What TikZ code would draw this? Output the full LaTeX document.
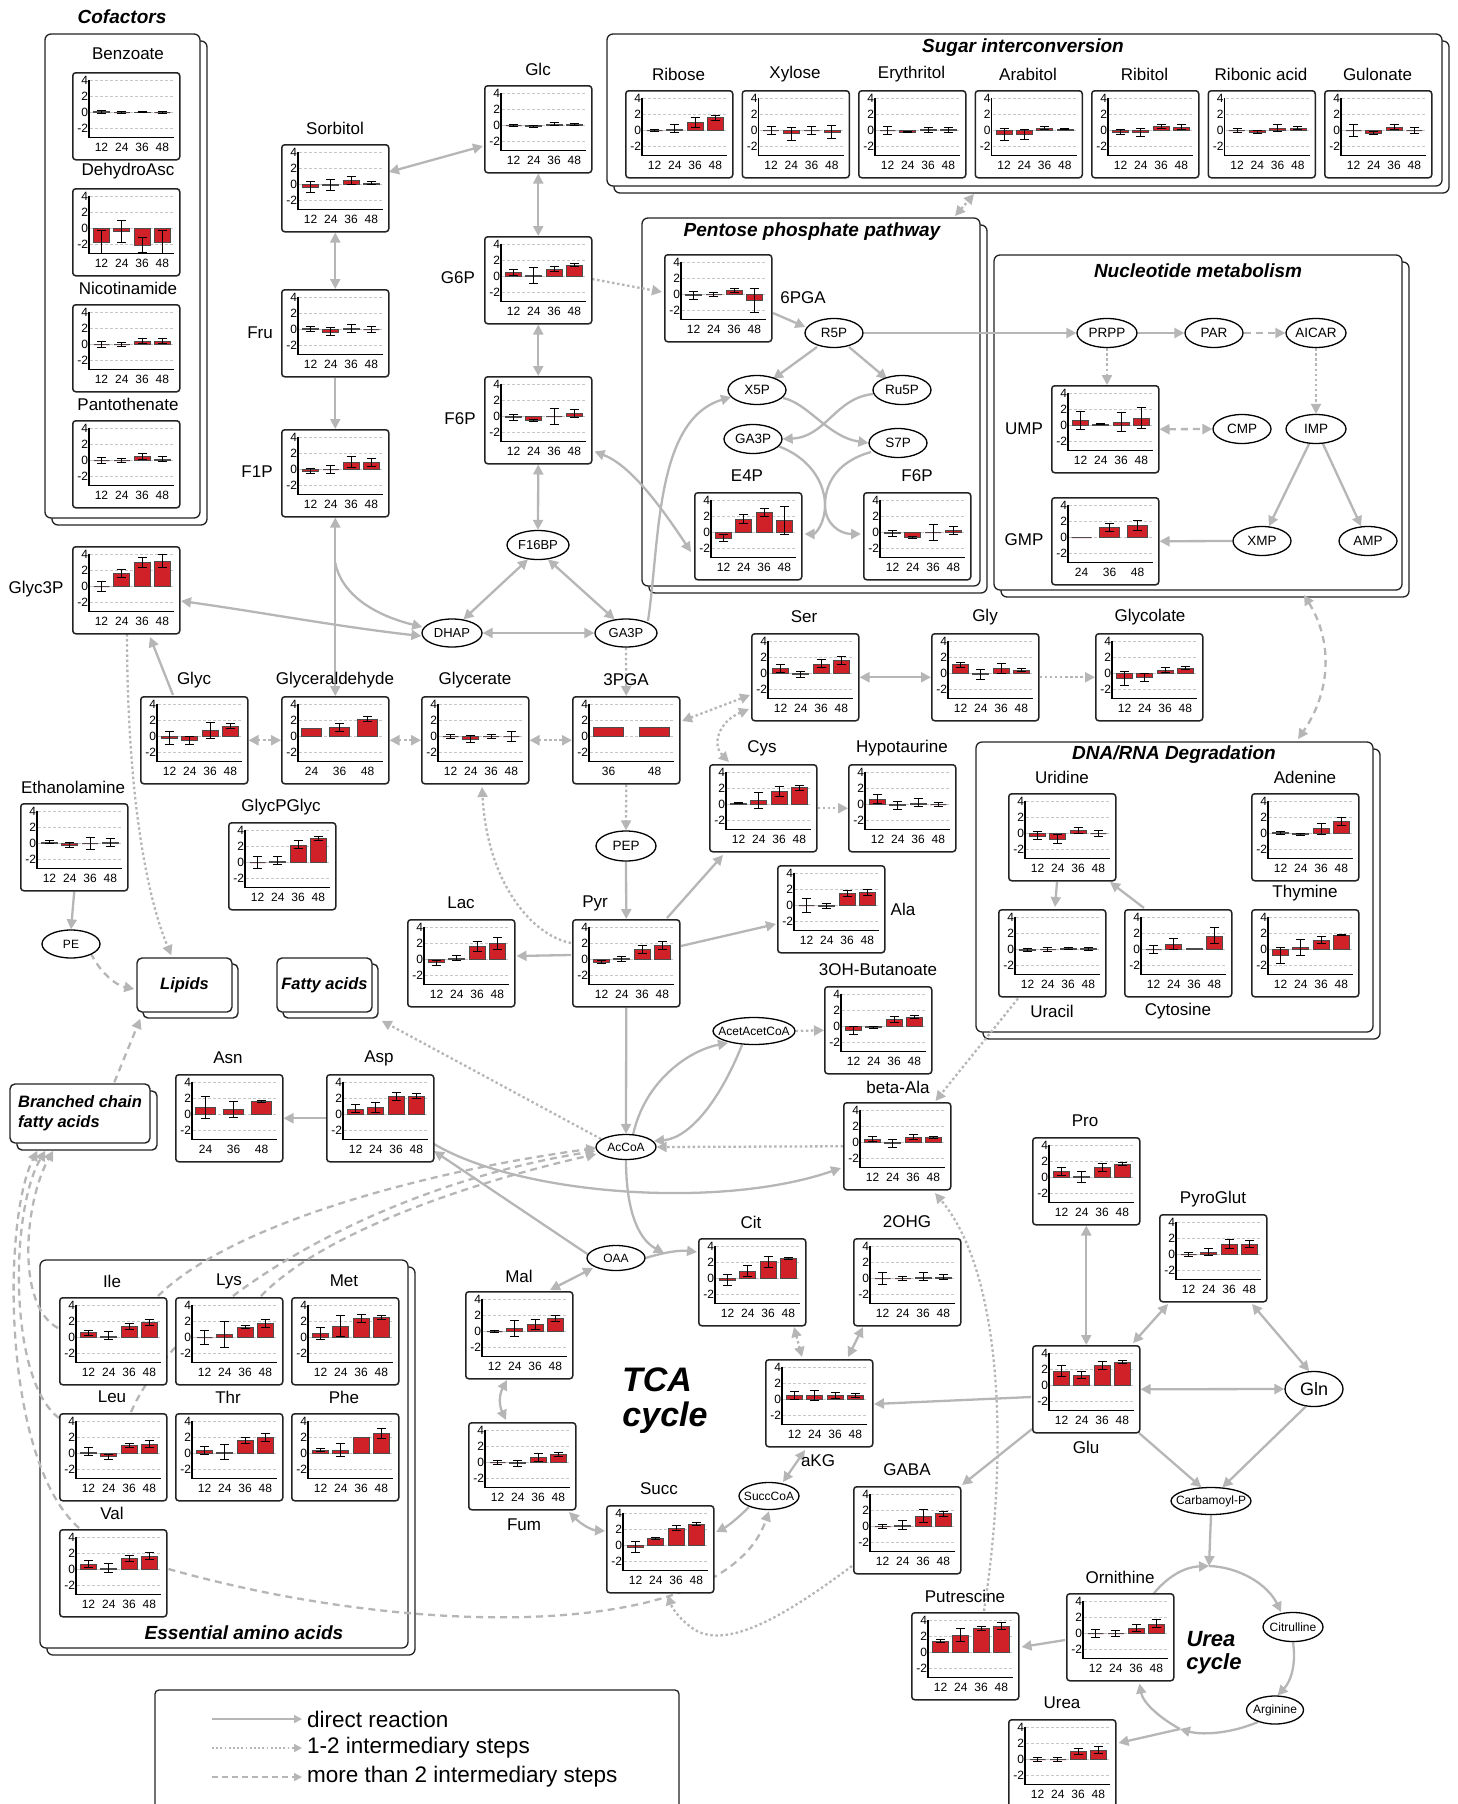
\documentclass[tikz,border=0pt]{standalone}
\usepackage{fontspec}
\setmainfont{Liberation Sans}
\usetikzlibrary{arrows.meta,calc,shapes.geometric}
\pgfdeclarelayer{bg}
\pgfdeclarelayer{mid}
\pgfsetlayers{bg,mid,main}
\definecolor{barred}{RGB}{208,32,40}
\definecolor{lgray}{RGB}{182,182,182}
\definecolor{boxk}{RGB}{35,35,35}
\tikzset{
 cbox/.style={draw=boxk, line width=1.5pt, rounded corners=3pt, fill=white, minimum width=107pt, minimum height=87pt, anchor=north west, inner sep=0pt},
 gridl/.style={draw=black!22, line width=0.6pt, dash pattern=on 3pt off 2pt},
 caxis/.style={draw=black, line width=1.4pt},
 yl/.style={anchor=east, inner sep=0pt, font=\fontsize{12}{13}\selectfont},
 xl/.style={inner sep=0pt, font=\fontsize{12}{13}\selectfont},
 barst/.style={fill=barred, draw=black!70, line width=0.7pt},
 errst/.style={draw=black, line width=1pt},
 lab/.style={inner sep=0pt, font=\fontsize{17}{20}\selectfont},
 gtitle/.style={inner sep=0pt, font=\bfseries\itshape\fontsize{19}{22}\selectfont},
 metE/.style={ellipse, draw=black, line width=1.3pt, fill=white, inner sep=0pt},
 gbox/.style={draw=boxk, line width=1.3pt, rounded corners=6pt, fill=white},
 tbox/.style={draw=boxk, line width=1.4pt, rounded corners=5pt, fill=white, inner sep=0pt, font=\bfseries\itshape\fontsize{16.5}{20}\selectfont},
 conn/.style={draw=lgray, line width=2.3pt},
 sa/.style={conn, -{Triangle[length=10pt,width=10pt]}},
 da/.style={conn, {Triangle[length=10pt,width=10pt]}-{Triangle[length=10pt,width=10pt]}},
 dotl/.style={dash pattern=on 2.5pt off 2.6pt},
 dashl/.style={dash pattern=on 7pt off 5pt},
 legl/.style={draw=lgray, line width=1.6pt, -{Triangle[length=8pt,width=8pt]}},
 legt/.style={anchor=west, inner sep=0pt, font=\fontsize{22.5}{26}\selectfont},
}
% generic chart: name, x, y, data, x0, dx, half width, labels
\newcommand\chartG[8]{%
 \node[cbox] (#1) at (#2,#3) {};
 \begin{scope}[shift={(#2,#3)}]
  \foreach \g [count=\j] in {4,2,0,-2} {\draw[gridl] (18,{40.5-8*(\g)}) -- (102,{40.5-8*(\g)});
     \node[yl] (#1y\j) at (16.3,{40.5-8*(\g)}) {\g};}
  \draw[caxis] (17,7.5) -- (17,65.5) -- (102,65.5);
  \foreach \v/\e [count=\i] in {#4} {%
    \pgfmathsetmacro\cx{#5+#6*(\i-1)}%
    \filldraw[barst] ({\cx-#7},40.5) rectangle ({\cx+#7},{40.5-8*(\v)});
    \ifdim \e pt>0pt
      \draw[errst] (\cx,{40.5-8*(\v-\e)}) -- (\cx,{40.5-8*(\v+\e)});
      \draw[errst] ({\cx-4.5},{40.5-8*(\v-\e)}) -- ({\cx+4.5},{40.5-8*(\v-\e)});
      \draw[errst] ({\cx-4.5},{40.5-8*(\v+\e)}) -- ({\cx+4.5},{40.5-8*(\v+\e)});
    \fi}
  \foreach \l [count=\i] in {#8} {\node[xl] (#1x\i) at ({#5+#6*(\i-1)},75) {\l};}
 \end{scope}}
\newcommand\chartF[4]{\chartG{#1}{#2}{#3}{#4}{29.5}{20.3}{8}{12,24,36,48}}
\newcommand\chartT[4]{\chartG{#1}{#2}{#3}{#4}{30.5}{28}{10}{24,36,48}}
\newcommand\chartD[4]{\chartG{#1}{#2}{#3}{#4}{36.5}{46}{15}{36,48}}
\newcommand\lab[4]{\node[lab] (#1) at (#2,#3) {#4};}
\newcommand\met[7]{\node[metE,minimum width=#4pt,minimum height=#5pt] (#1) at (#2,#3) {};
 \node[inner sep=0pt,font=\fontsize{#6}{#6}\selectfont] (#1t) at (#1.center) {#7};}
\newcommand\grp[4]{\draw[gbox] ({#1+7},{#2+7}) rectangle ({#3+7},{#4+7});
 \draw[gbox] (#1,#2) rectangle (#3,#4);}

\begin{document}
\begin{tikzpicture}[x=1pt,y=-1pt]
\useasboundingbox (0,0) rectangle (1458,1804);
\begin{pgfonlayer}{bg}
\grp{45}{34}{200}{518}
\grp{607}{34}{1442}{186}
\grp{642}{218}{980}{586}
\grp{994}{255}{1402}{590}
\grp{976}{742}{1373}{1032}
\grp{40}{1260}{408}{1648}
\draw[draw=boxk, line width=1.3pt, rounded corners=4pt, fill=white] (155,1690) rectangle (679,1840);
\end{pgfonlayer}

% group titles
\node[gtitle] (tCof) at (122,17) {Cofactors};
\node[gtitle] (tSug) at (1023,48) {Sugar interconversion};
\node[gtitle] (tPPP) at (812,232) {Pentose phosphate pathway};
\node[gtitle] (tNuc) at (1198,271) {Nucleotide metabolism};
\node[gtitle] (tDNA) at (1174,755) {DNA/RNA Degradation};
\node[gtitle] (tEAA) at (244,1633) {Essential amino acids};
\node[inner sep=0pt, font=\bfseries\itshape\fontsize{34}{40}\selectfont] (tcaA) at (657,1380) {TCA};
\node[inner sep=0pt, font=\bfseries\itshape\fontsize{34}{40}\selectfont] (tcaB) at (665,1418) {cycle};
\node[inner sep=0pt, font=\bfseries\itshape\fontsize{22}{26}\selectfont] (ucA) at (1211,1639) {Urea};
\node[inner sep=0pt, font=\bfseries\itshape\fontsize{22}{26}\selectfont] (ucB) at (1214,1664) {cycle};

% charts
\chartF{Benzoate}{72}{72}{0.1/0.2,0/0.1,0.05/0.1,0/0.12}
\chartF{DehydroAsc}{72}{188}{-1.7/1.4,-0.4/1.4,-2.1/0.95,-1.7/1.4}
\chartF{Nicotinamide}{72}{304}{0/0.4,0/0.2,0.4/0.3,0.4/0.3}
\chartF{Pantothenate}{72}{420}{0/0.4,0/0.3,0.5/0.4,0.2/0.3}
\chartF{Ribose}{625}{90}{0/0.1,0.2/0.5,1.0/0.6,1.6/0.3}
\chartF{Xylose}{741.5}{90}{0/0.5,-0.4/0.8,0/0.5,-0.2/0.8}
\chartF{Erythritol}{858}{90}{0/0.5,-0.2/0.1,0.1/0.3,0.1/0.3}
\chartF{Arabitol}{974.5}{90}{-0.5/0.7,-0.5/0.6,0.3/0.2,0.2/0.1}
\chartF{Ribitol}{1091}{90}{-0.2/0.3,-0.2/0.5,0.5/0.3,0.4/0.3}
\chartF{Ribonic}{1207.5}{90}{0/0.3,-0.2/0.2,0.3/0.4,0.3/0.2}
\chartF{Gulonate}{1324}{90}{0/0.8,-0.3/0.2,0.4/0.3,0/0.4}
\chartF{PGAsix}{664}{254}{-0.1/0.5,0/0.3,0.5/0.3,-0.7/1.5}
\chartF{EfourP}{694}{492}{-0.7/0.4,1.7/0.6,2.5/0.5,1.5/1.8}
\chartF{FsixPp}{863}{492}{-0.1/0.4,-0.6/0.1,0/1.0,0.3/0.5}
\chartF{UMP}{1051}{385}{0.6/1.1,0.2/0.1,0.4/1.2,0.9/1.3}
\chartT{GMP}{1051}{497}{0/0,1.3/0.5,1.5/0.6}
\chartF{Glc}{484}{85}{0/0.1,-0.1/0.1,0.2/0.2,0.1/0.15}
\chartF{Sorbitol}{281}{144}{-0.3/0.7,-0.1/0.7,0.5/0.5,0.2/0.2}
\chartF{GsixP}{484}{236}{0.5/0.4,0.1/1.0,0.9/0.3,1.4/0.2}
\chartF{Fru}{281}{289}{0.1/0.3,-0.3/0.5,0.1/0.5,0/0.4}
\chartF{FsixP}{484}{376}{-0.1/0.4,-0.5/0.1,0/1.0,0.4/0.5}
\chartF{FoneP}{281}{429}{-0.2/0.3,0/0.5,0.9/0.7,0.9/0.5}
\chartF{Glycthree}{72}{546}{0/0.6,1.6/0.5,3.0/0.6,3.2/0.8}
\chartF{Glyc}{140}{696}{-0.2/0.8,-0.5/0.5,0.8/1.0,1.3/0.3}
\chartT{Glyceraldehyde}{281}{696}{1.0/0,1.1/0.5,2.2/0.3}
\chartF{Glycerate}{421}{696}{0/0.2,-0.3/0.4,0/0.3,0/0.6}
\chartD{PGAthree}{572}{696}{1.1/0,1.1/0}
\chartF{Ethanolamine}{20}{803}{0.2/0.2,-0.2/0.3,0/0.8,0.1/0.5}
\chartF{GlycPGlyc}{228}{822}{0/0.8,0.2/0.5,2.2/0.5,3.0/0.3}
\chartF{Lac}{407}{919}{-0.4/0.3,0.2/0.3,1.6/0.6,2.0/0.7}
\chartF{Pyr}{572}{919}{-0.3/0.2,0.1/0.3,1.3/0.5,1.8/0.5}
\chartF{Ser}{751}{633}{0.6/0.5,-0.1/0.4,1.2/0.5,1.6/0.5}
\chartF{Gly}{931}{633}{1.1/0.3,-0.1/0.6,0.6/0.6,0.4/0.2}
\chartF{Glycolate}{1095}{633}{-0.6/0.9,-0.5/0.5,0.4/0.3,0.7/0.2}
\chartF{Cys}{709}{764}{0.2/0.1,0.5/1.0,1.6/0.6,2.1/0.3}
\chartF{Hypotaurine}{848}{764}{0.7/0.6,-0.1/0.5,0.2/0.5,0/0.3}
\chartF{Ala}{777}{865}{0/0.9,-0.1/0.3,1.5/0.4,1.6/0.4}
\chartF{OHBut}{824}{986}{-0.5/0.5,-0.1/0.1,0.9/0.4,1.2/0.2}
\chartF{betaAla}{843}{1102}{0.4/0.3,-0.1/0.5,0.7/0.3,0.6/0.1}
\chartT{Asn}{175}{1074}{0.9/1.4,0.6/1.0,1.6/0.1}
\chartF{Asp}{326}{1074}{0.7/0.5,0.9/0.6,2.3/0.5,2.3/0.3}
\chartF{Uridine}{1008}{793}{-0.3/0.5,-0.7/0.6,0.4/0.4,0/0.4}
\chartF{Adenine}{1251}{793}{0.1/0.2,-0.1/0.1,0.6/0.7,1.5/0.5}
\chartF{Thymine}{1251}{909}{-0.7/1.0,0.3/1.0,1.2/0.4,1.8/0.1}
\chartF{Uracil}{998}{909}{-0.1/0.2,0/0.2,0.1/0.1,0.1/0.2}
\chartF{Cytosine}{1124}{909}{0/0.5,0.7/0.7,0.1/0,1.7/1.0}
\chartF{Pro}{1032}{1137}{0.8/0.5,0.1/0.7,1.3/0.5,1.7/0.2}
\chartF{PyroGlut}{1159}{1214}{0/0.3,0.3/0.4,1.3/0.6,1.3/0.4}
\chartF{Cit}{698}{1238}{-0.2/0.7,0.9/0.7,2.1/0.7,2.5/0.1}
\chartF{OHGtwo}{853}{1238}{0/0.8,0/0.3,0.2/0.5,0.2/0.3}
\chartF{Mal}{465}{1291}{0/0.1,0.4/1.0,0.9/0.6,1.6/0.4}
\chartF{aKG}{765}{1359}{0.5/0.5,0.5/0.6,0.5/0.4,0.5/0.3}
\chartF{Glu}{1032}{1345}{1.8/0.7,1.3/0.4,2.5/0.5,2.9/0.2}
\chartF{Fum}{468}{1422}{0/0.3,-0.1/0.4,0.6/0.5,1.0/0.3}
\chartF{GABA}{853}{1486}{0/0.3,0.2/0.6,1.3/0.8,1.6/0.3}
\chartF{Succ}{606}{1505}{-0.2/0.7,0.9/0.1,2.2/0.3,2.7/0.2}
\chartF{Putrescine}{911}{1612}{1.4/0.2,2.2/0.8,3.0/0.2,3.3/0.4}
\chartF{Ornithine}{1066}{1593}{0/0.5,0/0.4,0.7/0.4,1.2/0.5}
\chartF{Urea}{1008}{1719}{0/0.2,0/0.2,1.0/0.4,1.2/0.4}
\chartF{Ile}{59}{1297}{0.6/0.3,0.2/0.5,1.4/0.4,1.9/0.4}
\chartF{Lys}{175}{1297}{0/0.9,0.4/1.6,1.3/0.2,1.8/0.5}
\chartF{Met}{291}{1297}{0.5/0.7,1.4/1.3,2.4/0.5,2.5/0.2}
\chartF{Leu}{59}{1413}{0.2/0.5,-0.4/0.3,1.0/0.3,1.2/0.4}
\chartF{Thr}{175}{1413}{0.4/0.5,0.2/0.9,1.6/0.4,2.0/0.5}
\chartF{Phe}{291}{1413}{0.4/0.2,0.4/0.8,2.0/0,2.5/0.6}
\chartF{Val}{59}{1529}{0.7/0.4,0.2/0.6,1.4/0.4,1.7/0.4}

% chart labels
\lab{lBenzoate}{128}{54}{Benzoate}
\lab{lDehydroAsc}{128}{171}{DehydroAsc}
\lab{lNicotinamide}{128}{288}{Nicotinamide}
\lab{lPantothenate}{128}{404}{Pantothenate}
\lab{lRibose}{678.5}{74}{Ribose}
\lab{lXylose}{795}{74}{Xylose}
\lab{lErythritol}{911.5}{74}{Erythritol}
\lab{lArabitol}{1028}{74}{Arabitol}
\lab{lRibitol}{1144.5}{74}{Ribitol}
\lab{lRibonic}{1261}{74}{Ribonic acid}
\lab{lGulonate}{1377.5}{74}{Gulonate}
\lab{lPGAsix}{803}{298}{6PGA}
\lab{lEfourP}{747}{476}{E4P}
\lab{lFsixPp}{917}{476}{F6P}
\lab{lUMP}{1024}{429}{UMP}
\lab{lGMP}{1024}{540}{GMP}
\lab{lGlc}{538}{69}{Glc}
\lab{lSorbitol}{335}{128}{Sorbitol}
\lab{lGsixP}{458}{278}{G6P}
\lab{lFru}{260}{333}{Fru}
\lab{lFsixP}{460}{419}{F6P}
\lab{lFoneP}{257}{472}{F1P}
\lab{lGlycthree}{36}{589}{Glyc3P}
\lab{lGlyc}{194}{680}{Glyc}
\lab{lGlyceraldehyde}{335}{680}{Glyceraldehyde}
\lab{lGlycerate}{475}{680}{Glycerate}
\lab{lPGAthree}{626}{680}{3PGA}
\lab{lEthanolamine}{73}{787}{Ethanolamine}
\lab{lGlycPGlyc}{281}{807}{GlycPGlyc}
\lab{lLac}{461}{903}{Lac}
\lab{lPyr}{595}{903}{Pyr}
\lab{lSer}{804}{617}{Ser}
\lab{lGly}{985}{617}{Gly}
\lab{lGlycolate}{1150}{617}{Glycolate}
\lab{lCys}{762}{748}{Cys}
\lab{lHypotaurine}{902}{748}{Hypotaurine}
\lab{lAla}{903}{909}{Ala}
\lab{lOHBut}{878}{970}{3OH-Butanoate}
\lab{lbetaAla}{898}{1087}{beta-Ala}
\lab{lAsn}{228}{1058}{Asn}
\lab{lAsp}{379}{1058}{Asp}
\lab{lUridine}{1062}{777}{Uridine}
\lab{lAdenine}{1305}{777}{Adenine}
\lab{lThymine}{1305}{893}{Thymine}
\lab{lUracil}{1052}{1011}{Uracil}
\lab{lCytosine}{1178}{1011}{Cytosine}
\lab{lPro}{1085}{1121}{Pro}
\lab{lPyroGlut}{1213}{1199}{PyroGlut}
\lab{lCit}{751}{1222}{Cit}
\lab{lOHGtwo}{907}{1222}{2OHG}
\lab{lMal}{519}{1276}{Mal}
\lab{laKG}{818}{1461}{aKG}
\lab{lGlu}{1086}{1447}{Glu}
\lab{lFum}{524}{1525}{Fum}
\lab{lGABA}{907}{1470}{GABA}
\lab{lSucc}{659}{1489}{Succ}
\lab{lPutrescine}{965}{1596}{Putrescine}
\lab{lOrnithine}{1120}{1577}{Ornithine}
\lab{lUrea}{1062}{1703}{Urea}
\lab{lIle}{112}{1281}{Ile}
\lab{lLys}{229}{1281}{Lys}
\lab{lMet}{344}{1281}{Met}
\lab{lLeu}{112}{1397}{Leu}
\lab{lThr}{228}{1397}{Thr}
\lab{lPhe}{344}{1397}{Phe}
\lab{lVal}{112}{1513}{Val}

% ellipse metabolites
\met{R5P}{834}{333}{58}{29}{13.5}{R5P}
\met{X5P}{757}{390}{58}{29}{13.5}{X5P}
\met{RufiveP}{902}{390}{58}{29}{13.5}{Ru5P}
\met{GAthreePp}{753}{439}{58}{29}{13.5}{GA3P}
\met{SsevenP}{898}{443}{58}{29}{13.5}{S7P}
\met{PRPP}{1107}{333}{60}{29}{13.5}{PRPP}
\met{PAR}{1214}{333}{58}{29}{13.5}{PAR}
\met{AICAR}{1316}{333}{60}{29}{13.5}{AICAR}
\met{CMP}{1242}{429}{58}{29}{13.5}{CMP}
\met{IMP}{1316}{429}{60}{29}{13.5}{IMP}
\met{XMP}{1262}{541}{58}{29}{13.5}{XMP}
\met{AMP}{1368}{541}{58}{29}{13.5}{AMP}
\met{F16BP}{538}{545}{62}{29}{13}{F16BP}
\met{DHAP}{452}{633}{60}{28}{13}{DHAP}
\met{GA3P}{626}{633}{62}{28}{13}{GA3P}
\met{PEP}{626}{846}{60}{30}{13.5}{PEP}
\met{PE}{71}{944}{58}{28}{12}{PE}
\met{AcetAcetCoA}{754}{1031}{82}{27}{12}{AcetAcetCoA}
\met{AcCoA}{626}{1147}{60}{25}{12}{AcCoA}
\met{OAA}{616}{1258}{58}{25}{12}{OAA}
\met{Gln}{1314}{1389}{58}{35}{18}{Gln}
\met{SuccCoA}{769}{1496}{60}{27}{12}{SuccCoA}
\met{Carb}{1211}{1501}{80}{27}{12}{Carbamoyl-P}
\met{Citrulline}{1293}{1627}{60}{29}{12}{Citrulline}
\met{Arginine}{1275}{1710}{57}{28}{12}{Arginine}

% stacked text boxes
\draw[tbox] (143,964) rectangle (238,1018);
\node[tbox,minimum width=95pt,minimum height=54pt] (Lipids) at (184.5,985) {Lipids};
\draw[tbox] (283,964) rectangle (378,1018);
\node[tbox,minimum width=95pt,minimum height=54pt] (Fatty) at (324.5,985) {Fatty acids};
\draw[tbox] (17,1091) rectangle (157,1150);
\node[tbox,minimum width=140pt,minimum height=59pt,align=left] (BCFA) at (80,1113.5) {Branched chain\\fatty acids};

% legend
\coordinate (lgA1) at (212,1719); \coordinate (lgA2) at (302,1719);
\coordinate (lgB1) at (212,1748); \coordinate (lgB2) at (302,1748);
\coordinate (lgC1) at (212,1777); \coordinate (lgC2) at (302,1777);
\node[legt] (legT1) at (307,1719) {direct reaction};
\node[legt] (legT2) at (307,1748) {1-2 intermediary steps};
\node[legt] (legT3) at (307,1777) {more than 2 intermediary steps};

% free-end coordinates
\coordinate (splitA) at (335,562);
\coordinate (citJoin) at (664,1253);
\coordinate (ucTop) at (1209,1566);
\coordinate (ujunc) at (1180,1729);
\coordinate (nucB) at (1304,595);
\coordinate (dnaT) at (1298,739);
\coordinate (pppT) at (955,216);
\coordinate (sugB) at (974,194);

\begin{pgfonlayer}{mid}
% legend lines
\draw[legl] (lgA1) -- (lgA2);
\draw[legl, dash pattern=on 1.8pt off 2.4pt] (lgB1) -- (lgB2);
\draw[legl, dash pattern=on 6pt off 4pt] (lgC1) -- (lgC2);
% sugars / glycolysis
\draw[da] ($(Sorbitol.north west)+(108,28)$) -- ($(Glc.north west)+(-1,61)$);
\draw[da] (Sorbitol.south) -- (Fru.north);
\draw[sa] (Fru.south) -- (FoneP.north);
\draw[da] (Glc.south) -- (GsixP.north);
\draw[da] (GsixP.south) -- (FsixP.north);
\draw[da] (FsixP.south) -- (F16BP.north);
\draw[da] (F16BP.235) -- (DHAP.50);
\draw[da] (F16BP.305) -- (GA3P.130);
\draw[da] (DHAP.east) -- (GA3P.west);
\draw[da] ($(Glycthree.north west)+(109,55)$) .. controls (260,612) and (340,627) .. ($(DHAP.west)+(0,3)$);
\draw[da] (FoneP.south) -- (Glyceraldehyde.north);
\draw[sa] (splitA) .. controls (342,597) and (378,616) .. ($(DHAP.west)+(1,-6)$);
\draw[sa] ($(Glyc.north west)+(33,-1)$) -- ($(Glycthree.north west)+(78,91)$);
\draw[da,dotl] (Glyc.east) -- (Glyceraldehyde.west);
\draw[da,dotl] (Glyceraldehyde.east) -- (Glycerate.west);
\draw[da,dotl] (Glycerate.east) -- (PGAthree.west);
\draw[sa,dotl] (GA3P.south) -- (PGAthree.north);
\draw[sa,dotl] (PGAthree.south) -- (PEP.north);
\draw[sa] (PEP.south) -- (Pyr.north);
\draw[sa] ($(Pyr.north west)+(-1,36)$) -- ($(Lac.north east)+(1,37)$);
\draw[sa,dotl] ($(Pyr.north west)+(-1,24)$) .. controls (530,935) and (487,880) .. ($(Glycerate.north west)+(61,91)$);
\draw[sa] ($(Pyr.north west)+(95,-1)$) -- ($(Cys.north west)+(14,91)$);
\draw[sa] ($(Pyr.north west)+(109,27)$) -- ($(Ala.north west)+(-1,59)$);
\draw[da,dotl] ($(PGAthree.north west)+(110,25)$) -- ($(Ser.north west)+(-1,62)$);
\draw[da] (Ser.east) -- (Gly.west);
\draw[sa,dotl] (Gly.east) -- (Glycolate.west);
\draw[da,dotl] ($(Ser.north west)+(-2,76)$) .. controls (718,722) and (712,745) .. ($(Cys.north west)+(20,-2)$);
\draw[sa,dotl] (Cys.east) -- (Hypotaurine.west);
\draw[sa,dotl] ($(GsixP.north west)+(108,43)$) -- ($(PGAsix.north west)+(-2,38)$);
% pentose phosphate
\draw[sa] ($(PGAsix.north west)+(109,59)$) -- ($(R5P.west)+(1,-6)$);
\draw[sa] ($(R5P.center)+(-17,14)$) -- ($(X5P.center)+(16,-11)$);
\draw[sa] ($(R5P.center)+(15,14)$) -- ($(RufiveP.center)+(-15,-11)$);
\draw[sa] ($(X5P.center)+(26,8)$) .. controls (808,403) and (828,437) .. (SsevenP.west);
\draw[sa] ($(RufiveP.center)+(-29,4)$) .. controls (835,398) and (826,437) .. (GAthreePp.east);
\draw[sa] ($(GAthreePp.center)+(25,7)$) .. controls (815,460) and (825,488) .. (825,505) .. controls (825,524) and (840,534) .. ($(FsixPp.north west)+(-2,42)$);
\draw[sa] ($(SsevenP.center)+(-27,9)$) .. controls (835,462) and (825,486) .. (825,505) .. controls (825,524) and (815,534) .. ($(EfourP.north east)+(2,42)$);
\draw[sa] ($(GA3P.center)+(22,-12)$) .. controls (660,540) and (655,420) .. ($(X5P.center)+(-26,7)$);
\draw[da] ($(FsixP.south east)+(2,-13)$) .. controls (630,465) and (660,505) .. ($(EfourP.north west)+(-3,60)$);
\draw[da,dotl] (pppT) -- (sugB);
% nucleotides
\draw[sa] (R5P.east) -- (PRPP.west);
\draw[sa] (PRPP.east) -- (PAR.west);
\draw[sa,dashl] (PAR.east) -- (AICAR.west);
\draw[sa,dotl] (PRPP.south) -- (PRPP.south |- UMP.north);
\draw[sa,dotl] (AICAR.south) -- (IMP.north);
\draw[da,dashl] (UMP.east) -- (CMP.west);
\draw[sa] (IMP.245) -- (XMP.65);
\draw[sa] (IMP.295) -- (AMP.115);
\draw[sa] (XMP.west) -- (GMP.east);
\draw[da,dashl] (nucB) .. controls (1332,640) and (1332,690) .. (dnaT);
% DNA/RNA
\draw[sa] ($(Uridine.north west)+(49,89)$) -- ($(Uracil.north west)+(57,-2)$);
\draw[sa] ($(Cytosine.north west)+(20,-1)$) -- ($(Uridine.north west)+(102,89)$);
\draw[sa,dotl] ($(Uracil.south west)+(20,1)$) -- ($(betaAla.north east)+(-16,-1)$);
% AcCoA region
\draw[sa] (Pyr.south) -- (AcCoA.north);
\draw[sa] ($(AcCoA.north)+(7,1)$) .. controls (645,1080) and (690,1050) .. ($(AcetAcetCoA.center)+(-26,12)$);
\draw[sa] ($(AcetAcetCoA.center)+(-12,14)$) .. controls (720,1100) and (690,1138) .. ($(AcCoA.center)+(28,-6)$);
\draw[sa,dotl] (AcetAcetCoA.east) -- (OHBut.west);
\draw[sa,dotl] (betaAla.west) -- (AcCoA.east);
\draw[sa] ($(Asp.north west)+(108,70)$) .. controls (520,1195) and (720,1210) .. ($(betaAla.north west)+(-2,66)$);
\draw[sa] ($(OAA.west)+(1,-4)$) -- ($(Asp.north west)+(108,77)$);
\draw[sa] (Asp.west) -- (Asn.east);
\draw[sa,dotl] ($(AcCoA.center)+(-25,-8)$) -- ($(Fatty.south east)+(9,8)$);
% TCA
\draw[sa] (AcCoA.south) .. controls (626,1205) and (636,1238) .. (citJoin);
\draw[sa] (OAA.east) .. controls (665,1252) and (680,1250) .. ($(Cit.north west)+(-1,14)$);
\draw[da] ($(OAA.center)+(-23,10)$) -- ($(Mal.north west)+(85,-1)$);
\draw[da] ($(Mal.north west)+(42,89)$) .. controls (499,1395) and (499,1405) .. ($(Fum.north west)+(38,-2)$);
\draw[da] ($(Fum.north west)+(101,90)$) .. controls (582,1525) and (592,1530) .. ($(Succ.north west)+(-1,26)$);
\draw[sa] ($(SuccCoA.center)+(-20,11)$) .. controls (738,1518) and (728,1526) .. ($(Succ.north west)+(110,27)$);
\draw[da] ($(aKG.north west)+(40,91)$) -- ($(SuccCoA.center)+(14,-14)$);
\draw[da,dotl] ($(Cit.north west)+(96,89)$) -- ($(aKG.north west)+(37,-2)$);
\draw[da] ($(OHGtwo.north west)+(10,89)$) -- ($(aKG.north west)+(83,-2)$);
\draw[sa] ($(Glu.north west)+(-1,52)$) -- ($(aKG.north west)+(109,45)$);
% glutamate / urea
\draw[da] (Glu.east) -- (Gln.west);
\draw[da] (Pro.south) -- (Glu.north);
\draw[da] ($(PyroGlut.north west)+(9,90)$) -- ($(Glu.north west)+(101,-2)$);
\draw[da] ($(PyroGlut.north west)+(93,90)$) -- (Gln.105);
\draw[sa] ($(Glu.north west)+(0,84)$) -- ($(GABA.north west)+(109,-1)$);
\draw[sa] ($(Glu.north west)+(107,88)$) -- (Carb.125);
\draw[sa] (Gln.245) -- (Carb.50);
\draw[sa] (Carb.south) -- (ucTop);
\draw[sa] ($(Ornithine.north east)+(-22,2)$) .. controls (1166,1578) and (1183,1567) .. (ucTop);
\draw[sa] (ucTop) .. controls (1240,1567) and (1268,1585) .. ($(Citrulline.center)+(-12,-15)$);
\draw[sa] (Citrulline.south) .. controls (1296,1662) and (1292,1680) .. (Arginine.80);
\draw[sa] (Arginine.215) .. controls (1235,1732) and (1205,1736) .. (ujunc);
\draw[sa] (ujunc) -- ($(Urea.north east)+(2,24)$);
\draw[sa] (ujunc) .. controls (1160,1718) and (1143,1703) .. ($(Ornithine.south east)+(-35,2)$);
\draw[sa] ($(Ornithine.north west)+(-1,47)$) -- ($(Putrescine.north east)+(2,35)$);
\draw[sa,dotl] ($(Putrescine.north west)+(73,-1)$) .. controls (1010,1440) and (1000,1270) .. ($(betaAla.north west)+(92,91)$);
\draw[sa,dotl] ($(GABA.north west)+(-1,80)$) .. controls (790,1612) and (730,1650) .. (695,1630) .. controls (680,1620) and (672,1608) .. ($(Succ.north west)+(62,90)$);
% essential amino acids
\draw[sa,dashl] ($(Val.north east)+(1,40)$) .. controls (420,1640) and (725,1640) .. ($(SuccCoA.south)+(0,1)$);
\draw[sa,dashl] ($(Ile.north west)+(99,-1)$) .. controls (230,1225) and (420,1172) .. ($(AcCoA.west)+(1,1)$);
\draw[sa,dashl] ($(Leu.north west)+(72,-1)$) .. controls (180,1300) and (380,1185) .. ($(AcCoA.west)+(0,4)$);
\draw[sa,dashl] ($(Lys.north west)+(86,-1)$) .. controls (320,1235) and (460,1185) .. ($(AcCoA.west)+(1,7)$);
\draw[sa,dashl] ($(Ile.north west)+(-1,31)$) .. controls (15,1305) and (25,1200) .. ($(BCFA.south west)+(44,7)$);
\draw[sa,dashl] ($(Leu.north west)+(0,5)$) .. controls (8,1380) and (10,1210) .. ($(BCFA.south west)+(36,7)$);
\draw[sa,dashl] ($(Val.north west)+(20,-1)$) .. controls (2,1460) and (2,1220) .. ($(BCFA.south west)+(28,7)$);
% lipids
\draw[sa,dashl] ($(BCFA.north west)+(105,-1)$) -- ($(Lipids.south west)+(4,6)$);
\draw[sa,dashl] ($(PE.east)+(-10,9)$) .. controls (100,972) and (115,985) .. ($(Lipids.west)+(-2,4)$);
\draw[sa] (Ethanolamine.south) -- (PE.north);
\draw[sa,dotl] ($(Glycthree.north west)+(55,88)$) .. controls (127,760) and (140,880) .. ($(Lipids.north west)+(35,-2)$);
\end{pgfonlayer}
\end{tikzpicture}
\end{document}
